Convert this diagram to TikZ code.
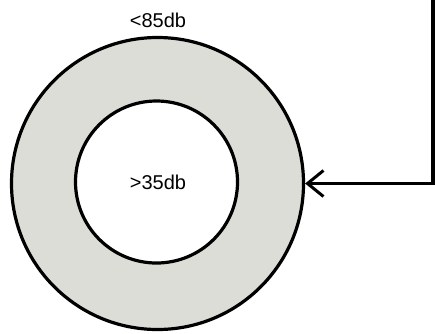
\documentclass[tikz,border=0pt]{standalone}
\usepackage{fontspec}
\setmainfont{Liberation Sans}
\usetikzlibrary{arrows.meta}
\definecolor{ringgrey}{RGB}{221,221,216}
\begin{document}
\begin{tikzpicture}[x=1pt,y=-1pt,
  ring/.style={circle,draw=black,line width=3.2pt,inner sep=0pt},
  lbl/.style={font=\fontsize{20}{22}\selectfont,inner sep=0pt},
  conn/.style={draw=black,line width=3.2pt,-{Straight Barb[length=16pt,width=26pt,line width=3pt]}}]
\useasboundingbox (0,0) rectangle (435,333);
\node[ring,fill=ringgrey,minimum size=292pt] (outer) at (157.5,183.5) {};
\node[ring,fill=white,minimum size=162pt] (inner) at (156.5,182) {};
\node[lbl] (innerlbl) at (158,182) {>35db};
\node[lbl] (outerlbl) at (158,20) {<85db};
\coordinate (top) at (433,-3);
\draw[conn] (top) |- (outer.east);
\end{tikzpicture}
\end{document}
